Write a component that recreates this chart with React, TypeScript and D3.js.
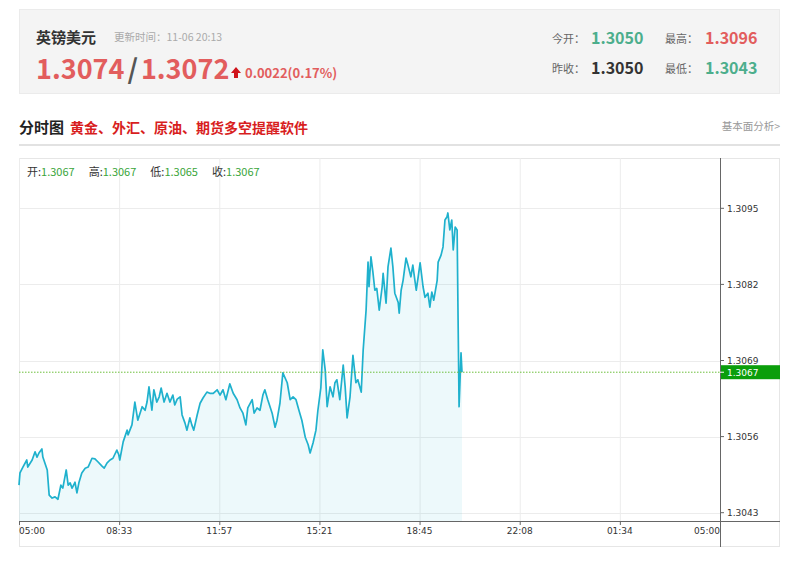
import { useMemo } from 'react'
import * as d3 from 'd3'

// minutes since 05:00 and price
const minutes = [
  0, 2, 8, 16, 18, 27, 33, 37, 41, 47, 49, 58, 62, 68, 74, 80, 86, 90, 97, 101, 105, 109, 115, 119, 123,
  129, 136, 142, 150, 156, 162, 170, 175, 181, 187, 193, 201, 205, 207, 214, 222, 224, 232, 238, 244,
  253, 259, 263, 267, 273, 277, 283, 288, 292, 298, 304, 310, 316, 320, 325, 331, 335, 341, 345, 351,
  355, 359, 366, 372, 378, 386, 392, 399, 407, 413, 419, 425, 433, 440, 448, 454, 460, 466, 470, 479,
  483, 489, 495, 501, 505, 511, 520, 526, 530, 536, 542, 551, 557, 563, 569, 575, 581, 588, 594, 598,
  604, 610, 614, 620, 624, 629, 633, 639, 645, 649, 653, 659, 666, 670, 674, 680, 686, 692, 696, 703,
  707, 713, 717, 719, 723, 727, 731, 735, 740, 746, 748, 754, 758, 764, 768, 772, 779, 781, 785, 789,
  795, 799, 805, 809, 816, 820, 824, 830, 834, 840, 844, 848, 852, 859, 861, 867, 871, 875, 879, 881,
  885, 889, 892, 896, 900, 902, 904, 908, 910,
]

const prices = [
  1.30477, 1.30498, 1.30508, 1.3052, 1.30508, 1.3052, 1.30534, 1.30525, 1.30532, 1.30539, 1.30525,
  1.30503, 1.3046, 1.30455, 1.30457, 1.30453, 1.30477, 1.30472, 1.30503, 1.30477, 1.30481, 1.30472,
  1.30482, 1.30464, 1.30481, 1.30498, 1.30506, 1.30508, 1.30523, 1.30522, 1.30517, 1.3051, 1.30506,
  1.30515, 1.3052, 1.30523, 1.30537, 1.30529, 1.3052, 1.30551, 1.30571, 1.30563, 1.3058, 1.30619,
  1.30588, 1.30611, 1.30605, 1.30619, 1.30645, 1.30605, 1.3064, 1.30619, 1.30628, 1.30643, 1.30619,
  1.30634, 1.30619, 1.30631, 1.30614, 1.30624, 1.30628, 1.30597, 1.30583, 1.30571, 1.30592, 1.3058,
  1.30571, 1.30597, 1.30617, 1.30626, 1.30636, 1.30634, 1.30634, 1.3064, 1.30631, 1.3064, 1.30623,
  1.3065, 1.30634, 1.30623, 1.30609, 1.306, 1.3058, 1.30609, 1.30623, 1.306, 1.30609, 1.30605, 1.30631,
  1.3064, 1.30623, 1.306, 1.30576, 1.30588, 1.30617, 1.30669, 1.30652, 1.30623, 1.30628, 1.30623,
  1.30605, 1.30588, 1.30559, 1.30546, 1.30532, 1.30549, 1.30571, 1.30605, 1.30643, 1.30708, 1.30674,
  1.30611, 1.30645, 1.30628, 1.30652, 1.30657, 1.30623, 1.30682, 1.30645, 1.30592, 1.30628, 1.30699,
  1.30652, 1.30657, 1.30636, 1.30708, 1.30776, 1.30858, 1.30816, 1.30867, 1.30841, 1.3081, 1.30813,
  1.30776, 1.30816, 1.30839, 1.30788, 1.3085, 1.30882, 1.3085, 1.30805, 1.30789, 1.30771, 1.3081,
  1.30827, 1.30865, 1.30853, 1.30833, 1.30853, 1.3081, 1.30833, 1.30857, 1.30816, 1.30798, 1.30805,
  1.30781, 1.30807, 1.30793, 1.30827, 1.30858, 1.3087, 1.30884, 1.3093, 1.30935, 1.30942, 1.30913,
  1.3093, 1.30879, 1.30918, 1.30913, 1.30759, 1.30611, 1.30703, 1.3067,
]

const timeLabels = ['05:00', '08:33', '11:57', '15:21', '18:45', '22:08', '01:34', '05:00']
const priceTicks = [1.3043, 1.3056, 1.3069, 1.3082, 1.3095]
const lastPrice = 1.3067

const ohlc = [
  { label: '开:', value: '1.3067' },
  { label: '高:', value: '1.3067' },
  { label: '低:', value: '1.3065' },
  { label: '收:', value: '1.3067' },
]

const RED = '#e25d5d'
const GREEN = '#4cae8c'
const LINE = '#1fb1cd'
const CJK = '"Noto Sans CJK SC", "Noto Sans", sans-serif'
const AXIS_FONT = '"DejaVu Sans", Verdana, sans-serif'

export default function App() {
  const left = 19
  const right = 720
  const boxRight = 780
  const top = 158
  const axisY = 521

  const x = d3.scaleLinear().domain([0, 1440]).range([left, right])
  const y = d3.scaleLinear().domain([1.3043, 1.3095]).range([512.7, 208.3])
  const xLab = d3
    .scalePoint<number>()
    .domain(timeLabels.map((_, i) => i))
    .range([left, right])

  const points = useMemo(() => minutes.map((m, i) => ({ m, p: prices[i] })), [])

  const line = d3
    .line<{ m: number; p: number }>()
    .x((d) => x(d.m))
    .y((d) => y(d.p))
  const area = d3
    .area<{ m: number; p: number }>()
    .x((d) => x(d.m))
    .y0(axisY)
    .y1((d) => y(d.p))

  const lastY = y(lastPrice)

  return (
    <svg
      width={800}
      height={572}
      style={{ position: 'absolute', left: 0, top: 0, background: '#fff' }}
    >
      {/* quote header */}
      <rect x={19.5} y={9.5} width={760} height={84} fill="#f4f4f4" stroke="#ebebeb" />
      <text x={36} y={43} fontFamily={CJK} fontSize={15} fontWeight="bold" fill="#333">
        英镑美元
      </text>
      <text x={114} y={41} fontFamily={CJK} fontSize={10.5} fill="#aaa">
        更新时间：11-06 20:13
      </text>
      <text x={36} y={79} fontFamily={CJK} fontSize={27} fontWeight="bold" fill={RED}>
        1.3074
        <tspan fill="#555" dx={3}>/</tspan>
        <tspan dx={3}>1.3072</tspan>
      </text>
      <path d="M236,67 L241,73 L238,73 L238,78 L234,78 L234,73 L231,73 Z" fill="#d0141b" />
      <text x={245} y={78} fontFamily={CJK} fontSize={13} fontWeight="bold" fill={RED}>
        0.0022(0.17%)
      </text>

      <text x={552} y={43} fontFamily={CJK} fontSize={11} fill="#666">今开：</text>
      <text x={591} y={44} fontFamily={CJK} fontSize={16} fontWeight="bold" fill={GREEN}>1.3050</text>
      <text x={665} y={43} fontFamily={CJK} fontSize={11} fill="#666">最高：</text>
      <text x={705} y={44} fontFamily={CJK} fontSize={16} fontWeight="bold" fill={RED}>1.3096</text>
      <text x={552} y={73} fontFamily={CJK} fontSize={11} fill="#666">昨收：</text>
      <text x={591} y={74} fontFamily={CJK} fontSize={16} fontWeight="bold" fill="#333">1.3050</text>
      <text x={665} y={73} fontFamily={CJK} fontSize={11} fill="#666">最低：</text>
      <text x={705} y={74} fontFamily={CJK} fontSize={16} fontWeight="bold" fill={GREEN}>1.3043</text>

      {/* section title */}
      <text x={19} y={133} fontFamily={CJK} fontSize={15} fontWeight="bold" fill="#222">分时图</text>
      <text x={70} y={133} fontFamily={CJK} fontSize={14} fontWeight="bold" fill="#d81e1e">
        黄金、外汇、原油、期货多空提醒软件
      </text>
      <text x={780} y={130} textAnchor="end" fontFamily={CJK} fontSize={10.5} fill="#999">
        基本面分析&gt;
      </text>
      <line x1={19} x2={780} y1={145} y2={145} stroke="#e2e2e2" strokeWidth={2} />

      {/* chart frame */}
      <rect x={19.5} y={158.5} width={760} height={388} fill="#fff" stroke="#e6e6e6" />

      {/* grid */}
      {timeLabels.map((_, i) => (
        <line key={`vg${i}`} x1={xLab(i)! + 0.5} x2={xLab(i)! + 0.5} y1={top} y2={axisY} stroke="#ececec" />
      ))}
      {priceTicks.map((t) => (
        <line key={`hg${t}`} x1={left} x2={right} y1={Math.round(y(t)) + 0.5} y2={Math.round(y(t)) + 0.5} stroke="#ececec" />
      ))}

      {/* price area + line */}
      <path d={area(points) ?? ''} fill={LINE} fillOpacity={0.08} />
      <path d={line(points) ?? ''} fill="none" stroke={LINE} strokeWidth={1.7} strokeLinejoin="round" />

      {/* last price dotted line */}
      <line x1={left} x2={right} y1={lastY} y2={lastY} stroke="#6cbf3c" strokeDasharray="1.5,1.5" />

      {/* axes */}
      <line x1={left} x2={boxRight} y1={axisY + 0.5} y2={axisY + 0.5} stroke="#666" />
      <line x1={right + 0.5} x2={right + 0.5} y1={top} y2={547} stroke="#666" />

      {timeLabels.map((lab, i) => {
        const px = xLab(i)!
        const anchor = i === 0 ? 'start' : i === timeLabels.length - 1 ? 'end' : 'middle'
        return (
          <g key={`xl${i}`}>
            <line x1={px + 0.5} x2={px + 0.5} y1={axisY} y2={axisY + 4} stroke="#666" />
            <text x={px} y={534} textAnchor={anchor} fontFamily={AXIS_FONT} fontSize={9} fill="#333">
              {lab}
            </text>
          </g>
        )
      })}

      {priceTicks.map((t) => (
        <g key={`yl${t}`}>
          <line x1={right} x2={right + 4} y1={y(t)} y2={y(t)} stroke="#666" />
          <text x={727} y={y(t) + 3.5} fontFamily={AXIS_FONT} fontSize={9} fill="#333">
            {t.toFixed(4)}
          </text>
        </g>
      ))}

      {/* last price tag */}
      <rect x={right + 1} y={lastY - 7} width={boxRight - right - 1} height={14} fill="#0b9e0b" />
      <line x1={right} x2={right + 4} y1={lastY} y2={lastY} stroke="#fff" />
      <text x={727} y={lastY + 3.5} fontFamily={AXIS_FONT} fontSize={9} fill="#fff">
        {lastPrice.toFixed(4)}
      </text>

      {/* OHLC readout */}
      <text x={27} y={176} fontFamily={CJK} fontSize={11}>
        {ohlc.map((o, i) => (
          <tspan key={o.label} dx={i === 0 ? 0 : 14}>
            <tspan fill="#333">{o.label}</tspan>
            <tspan fill="#3aa53a">{o.value}</tspan>
          </tspan>
        ))}
      </text>
    </svg>
  )
}
